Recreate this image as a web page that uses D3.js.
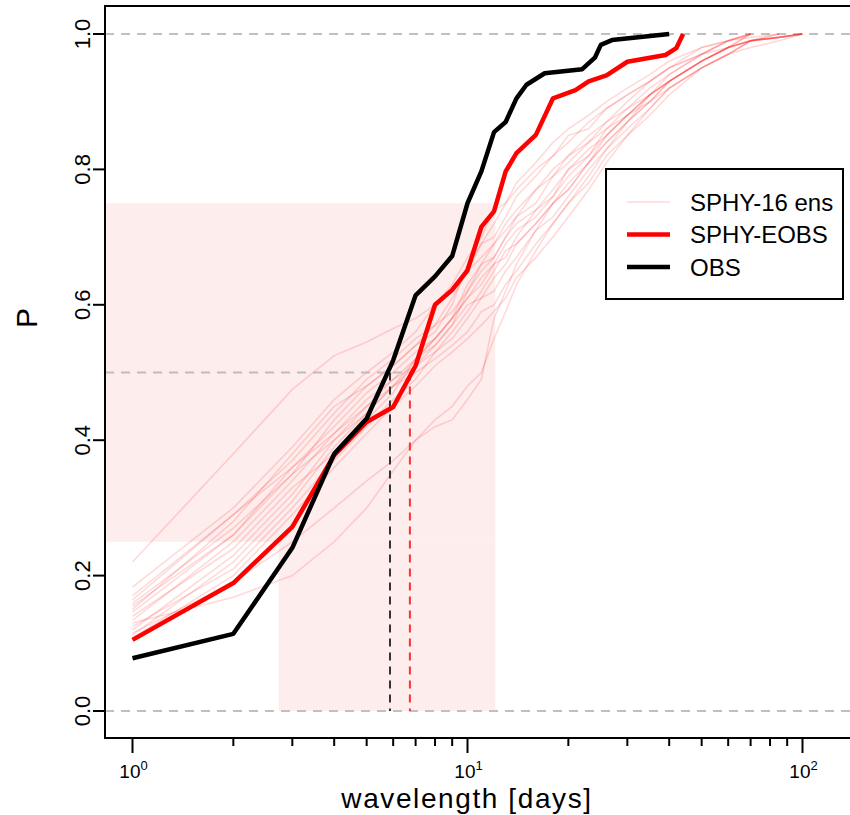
<!DOCTYPE html>
<html>
<head>
<meta charset="utf-8">
<script src="https://cdn.jsdelivr.net/npm/d3@7"></script>
<style>
  body { margin: 0; background: #fff; }
  text { font-family: "Liberation Sans", Arial, sans-serif; fill: #000; }
</style>
</head>
<body>
<div id="chart-area"></div>
<script>
// observed ECDF of wavelengths
const obsX = [1, 2, 3, 4, 5, 6, 7, 8, 9, 10, 11, 12, 13, 14, 15, 17, 22, 24, 25, 27, 40];
const obsP = [0.078, 0.114, 0.241, 0.380, 0.432, 0.518, 0.614, 0.642, 0.672, 0.750, 0.797,
              0.855, 0.870, 0.905, 0.925, 0.942, 0.948, 0.965, 0.984, 0.991, 1.0];

// SPHY forced with E-OBS
const eobsX = [1, 2, 3, 4, 5, 6, 7, 8, 9, 10, 11, 12, 13, 14, 16, 18, 21, 23, 26, 30, 39, 42, 44];
const eobsP = [0.105, 0.189, 0.272, 0.378, 0.427, 0.449, 0.510, 0.600, 0.622, 0.651, 0.715, 0.738,
               0.797, 0.824, 0.851, 0.905, 0.917, 0.930, 0.939, 0.959, 0.969, 0.979, 1.0];

// 16 ensemble members, all on the same wavelength grid (each stops once it reaches 1)
const ensX = [1, 2, 3, 4, 5, 6, 7, 8, 9, 10, 11, 12, 13, 14, 16, 18, 20, 23, 26, 30, 35, 40, 50, 60, 70, 85, 100];
const ensP = [
  [0.22, 0.38, 0.475, 0.525, 0.545, 0.565, 0.58, 0.60, 0.62, 0.65, 0.67, 0.69, 0.72, 0.74, 0.77, 0.79, 0.82, 0.85, 0.87, 0.90, 0.93, 0.95, 0.97, 0.99, 1.0],
  [0.13, 0.168, 0.20, 0.25, 0.30, 0.355, 0.40, 0.43, 0.45, 0.48, 0.50, 0.55, 0.59, 0.63, 0.68, 0.72, 0.75, 0.79, 0.83, 0.87, 0.91, 0.93, 0.96, 0.98, 0.99, 1.0],
  [0.115, 0.19, 0.25, 0.30, 0.34, 0.37, 0.40, 0.42, 0.43, 0.46, 0.49, 0.58, 0.62, 0.66, 0.71, 0.75, 0.78, 0.81, 0.85, 0.88, 0.91, 0.94, 0.97, 0.99, 0.995, 1.0],
  [0.183, 0.30, 0.39, 0.46, 0.50, 0.53, 0.56, 0.60, 0.63, 0.67, 0.70, 0.74, 0.75, 0.78, 0.81, 0.84, 0.86, 0.88, 0.90, 0.92, 0.94, 0.96, 0.98, 0.99, 1.0],
  [0.164, 0.29, 0.37, 0.44, 0.49, 0.52, 0.55, 0.57, 0.61, 0.65, 0.69, 0.70, 0.73, 0.76, 0.79, 0.82, 0.85, 0.86, 0.89, 0.91, 0.93, 0.95, 0.97, 0.99, 1.0],
  [0.159, 0.27, 0.35, 0.43, 0.48, 0.51, 0.54, 0.57, 0.59, 0.62, 0.66, 0.67, 0.70, 0.73, 0.75, 0.79, 0.81, 0.84, 0.86, 0.89, 0.92, 0.94, 0.97, 0.98, 0.99, 1.0],
  [0.146, 0.26, 0.36, 0.42, 0.47, 0.50, 0.53, 0.55, 0.58, 0.61, 0.63, 0.66, 0.67, 0.70, 0.74, 0.76, 0.80, 0.82, 0.86, 0.88, 0.91, 0.93, 0.96, 0.98, 0.99, 0.995, 1.0],
  [0.134, 0.25, 0.34, 0.41, 0.46, 0.49, 0.52, 0.54, 0.57, 0.60, 0.61, 0.64, 0.66, 0.69, 0.72, 0.75, 0.77, 0.81, 0.84, 0.87, 0.90, 0.93, 0.96, 0.98, 0.99, 0.995, 1.0],
  [0.12, 0.23, 0.32, 0.40, 0.45, 0.49, 0.51, 0.53, 0.55, 0.58, 0.61, 0.62, 0.65, 0.67, 0.71, 0.73, 0.76, 0.80, 0.83, 0.86, 0.89, 0.92, 0.95, 0.97, 0.99, 0.995, 1.0],
  [0.112, 0.22, 0.31, 0.39, 0.44, 0.48, 0.50, 0.52, 0.54, 0.56, 0.59, 0.60, 0.63, 0.65, 0.69, 0.72, 0.75, 0.78, 0.82, 0.85, 0.88, 0.91, 0.95, 0.97, 0.99, 0.995, 1.0],
  [0.15, 0.28, 0.38, 0.45, 0.48, 0.51, 0.54, 0.56, 0.60, 0.66, 0.69, 0.72, 0.75, 0.77, 0.80, 0.82, 0.84, 0.87, 0.89, 0.91, 0.93, 0.95, 0.98, 0.99, 1.0],
  [0.14, 0.24, 0.33, 0.38, 0.43, 0.47, 0.52, 0.55, 0.58, 0.61, 0.64, 0.66, 0.69, 0.71, 0.73, 0.76, 0.79, 0.82, 0.85, 0.88, 0.91, 0.93, 0.96, 0.98, 0.99, 0.995, 1.0],
  [0.125, 0.21, 0.30, 0.37, 0.42, 0.46, 0.49, 0.53, 0.56, 0.59, 0.62, 0.65, 0.68, 0.69, 0.72, 0.75, 0.77, 0.81, 0.84, 0.87, 0.90, 0.93, 0.96, 0.98, 1.0],
  [0.17, 0.29, 0.36, 0.41, 0.45, 0.48, 0.51, 0.54, 0.57, 0.62, 0.65, 0.67, 0.70, 0.72, 0.74, 0.77, 0.80, 0.83, 0.85, 0.88, 0.90, 0.92, 0.95, 0.97, 0.99, 0.995, 1.0],
  [0.108, 0.20, 0.29, 0.36, 0.41, 0.45, 0.48, 0.51, 0.53, 0.55, 0.57, 0.59, 0.61, 0.64, 0.67, 0.70, 0.73, 0.77, 0.81, 0.85, 0.89, 0.92, 0.95, 0.97, 0.98, 0.99, 1.0],
  [0.155, 0.26, 0.35, 0.40, 0.44, 0.48, 0.52, 0.55, 0.58, 0.63, 0.66, 0.69, 0.71, 0.73, 0.77, 0.80, 0.82, 0.84, 0.87, 0.89, 0.91, 0.93, 0.96, 0.98, 1.0]
];

// medians (P = 0.5) and ensemble interquartile box
const medianObs = 5.87;
const medianEobs = 6.73;
const iqrX = [2.73, 12.1];
const iqrP = [0.25, 0.75];

const yTicks = [0, 0.2, 0.4, 0.6, 0.8, 1.0];
const xMajor = [1, 10, 100];
const xMinor = [2, 3, 4, 5, 6, 7, 8, 9, 20, 30, 40, 50, 60, 70, 80, 90];
const legendLabels = ["SPHY-16 ens", "SPHY-EOBS", "OBS"];

const width = 850;
const height = 815;
const box = { left: 105, top: 6, bottom: 738, right: 880 };

const svg = d3.select('#chart-area')
    .append('svg')
    .attr('width', width)
    .attr('height', height);

const x = d3.scaleLog()
    .domain([1, 100])
    .range([132.5, 802.5]);

const y = d3.scaleLinear()
    .domain([0, 1])
    .range([711, 34]);

const pink = '#fdeded';

// shaded quartile bands
svg.append('rect')
    .attr('x', box.left)
    .attr('y', y(iqrP[1]))
    .attr('width', x(iqrX[1]) - box.left)
    .attr('height', y(iqrP[0]) - y(iqrP[1]))
    .attr('fill', pink);

svg.append('rect')
    .attr('x', x(iqrX[0]))
    .attr('y', y(iqrP[0]))
    .attr('width', x(iqrX[1]) - x(iqrX[0]))
    .attr('height', y(0) - y(iqrP[0]))
    .attr('fill', pink);

// reference lines at 0 and 1
svg.selectAll('.hline')
    .data([0, 1])
    .enter()
    .append('line')
    .attr('class', 'hline')
    .attr('x1', box.left)
    .attr('x2', box.right)
    .attr('y1', d => y(d))
    .attr('y2', d => y(d))
    .attr('stroke', '#c0c0c0')
    .attr('stroke-width', 2)
    .attr('stroke-dasharray', '9,7');

const line = d3.line()
    .x(d => x(d[0]))
    .y(d => y(d[1]));

// ensemble members
svg.selectAll('.ens')
    .data(ensP)
    .enter()
    .append('path')
    .attr('class', 'ens')
    .attr('d', p => line(p.map((v, i) => [ensX[i], v])))
    .attr('fill', 'none')
    .attr('stroke', 'rgba(255, 0, 0, 0.15)')
    .attr('stroke-width', 1.6);

// median guides
svg.append('line')
    .attr('x1', box.left)
    .attr('x2', x(medianEobs))
    .attr('y1', y(0.5))
    .attr('y2', y(0.5))
    .attr('stroke', '#bdbdbd')
    .attr('stroke-width', 2)
    .attr('stroke-dasharray', '9,7');

svg.append('line')
    .attr('x1', x(medianObs))
    .attr('x2', x(medianObs))
    .attr('y1', y(0.5))
    .attr('y2', y(0))
    .attr('stroke', '#333')
    .attr('stroke-width', 2)
    .attr('stroke-dasharray', '8,6');

svg.append('line')
    .attr('x1', x(medianEobs))
    .attr('x2', x(medianEobs))
    .attr('y1', y(0.5))
    .attr('y2', y(0))
    .attr('stroke', '#ff3030')
    .attr('stroke-width', 2)
    .attr('stroke-dasharray', '8,6');

svg.append('path')
    .attr('d', line(eobsX.map((v, i) => [v, eobsP[i]])))
    .attr('fill', 'none')
    .attr('stroke', '#ff0000')
    .attr('stroke-width', 4.5)
    .attr('stroke-linejoin', 'round');

svg.append('path')
    .attr('d', line(obsX.map((v, i) => [v, obsP[i]])))
    .attr('fill', 'none')
    .attr('stroke', '#000')
    .attr('stroke-width', 4.5)
    .attr('stroke-linejoin', 'round');

// plot frame (right side runs off the picture)
svg.append('path')
    .attr('d', `M${box.right},${box.top}H${box.left}V${box.bottom}H${box.right}`)
    .attr('fill', 'none')
    .attr('stroke', '#000')
    .attr('stroke-width', 2);

// y axis
const yAxis = svg.append('g').attr('class', 'y axis');
yAxis.selectAll('line')
    .data(yTicks)
    .enter()
    .append('line')
    .attr('x1', box.left - 12)
    .attr('x2', box.left)
    .attr('y1', d => y(d))
    .attr('y2', d => y(d))
    .attr('stroke', '#000')
    .attr('stroke-width', 2);

yAxis.selectAll('text')
    .data(yTicks)
    .enter()
    .append('text')
    .attr('transform', d => `translate(90, ${y(d)}) rotate(-90)`)
    .attr('text-anchor', 'middle')
    .attr('font-size', '22px')
    .text(d => d.toFixed(1));

// x axis
const xAxis = svg.append('g').attr('class', 'x axis');
xAxis.selectAll('.major')
    .data(xMajor)
    .enter()
    .append('line')
    .attr('class', 'major')
    .attr('x1', d => x(d))
    .attr('x2', d => x(d))
    .attr('y1', box.bottom)
    .attr('y2', box.bottom + 15)
    .attr('stroke', '#000')
    .attr('stroke-width', 2);

xAxis.selectAll('.minor')
    .data(xMinor)
    .enter()
    .append('line')
    .attr('class', 'minor')
    .attr('x1', d => x(d))
    .attr('x2', d => x(d))
    .attr('y1', box.bottom)
    .attr('y2', box.bottom + 8)
    .attr('stroke', '#000')
    .attr('stroke-width', 2);

const xLabels = xAxis.selectAll('.xlab')
    .data(xMajor)
    .enter()
    .append('text')
    .attr('class', 'xlab')
    .attr('x', d => x(d) + 1)
    .attr('y', 778)
    .attr('text-anchor', 'middle')
    .attr('font-size', '19px');
xLabels.append('tspan').text('10');
xLabels.append('tspan')
    .attr('font-size', '13px')
    .attr('dy', -8)
    .text(d => Math.round(Math.log10(d)));

// axis titles
svg.append('text')
    .attr('x', 467)
    .attr('y', 808)
    .attr('text-anchor', 'middle')
    .attr('font-size', '28px')
    .attr('letter-spacing', '1.6px')
    .text('wavelength [days]');

svg.append('text')
    .attr('transform', 'translate(37, 318) rotate(-90)')
    .attr('text-anchor', 'middle')
    .attr('font-size', '30px')
    .text('P');

// legend
const legend = svg.append('g').attr('transform', 'translate(606, 169)');
legend.append('rect')
    .attr('width', 237)
    .attr('height', 130)
    .attr('fill', '#fff')
    .attr('stroke', '#000')
    .attr('stroke-width', 2);

const legendStyle = [
    { color: 'rgba(255, 0, 0, 0.15)', w: 1.6 },
    { color: '#ff0000', w: 4.5 },
    { color: '#000', w: 4.5 }
];

legendLabels.forEach((label, i) => {
    const ly = 33 + i * 32.5;
    legend.append('line')
        .attr('x1', 21)
        .attr('x2', 64)
        .attr('y1', ly)
        .attr('y2', ly)
        .attr('stroke', legendStyle[i].color)
        .attr('stroke-width', legendStyle[i].w);
    legend.append('text')
        .attr('x', 84)
        .attr('y', ly + 8.5)
        .attr('font-size', '24px')
        .text(label);
});
</script>
</body>
</html>
